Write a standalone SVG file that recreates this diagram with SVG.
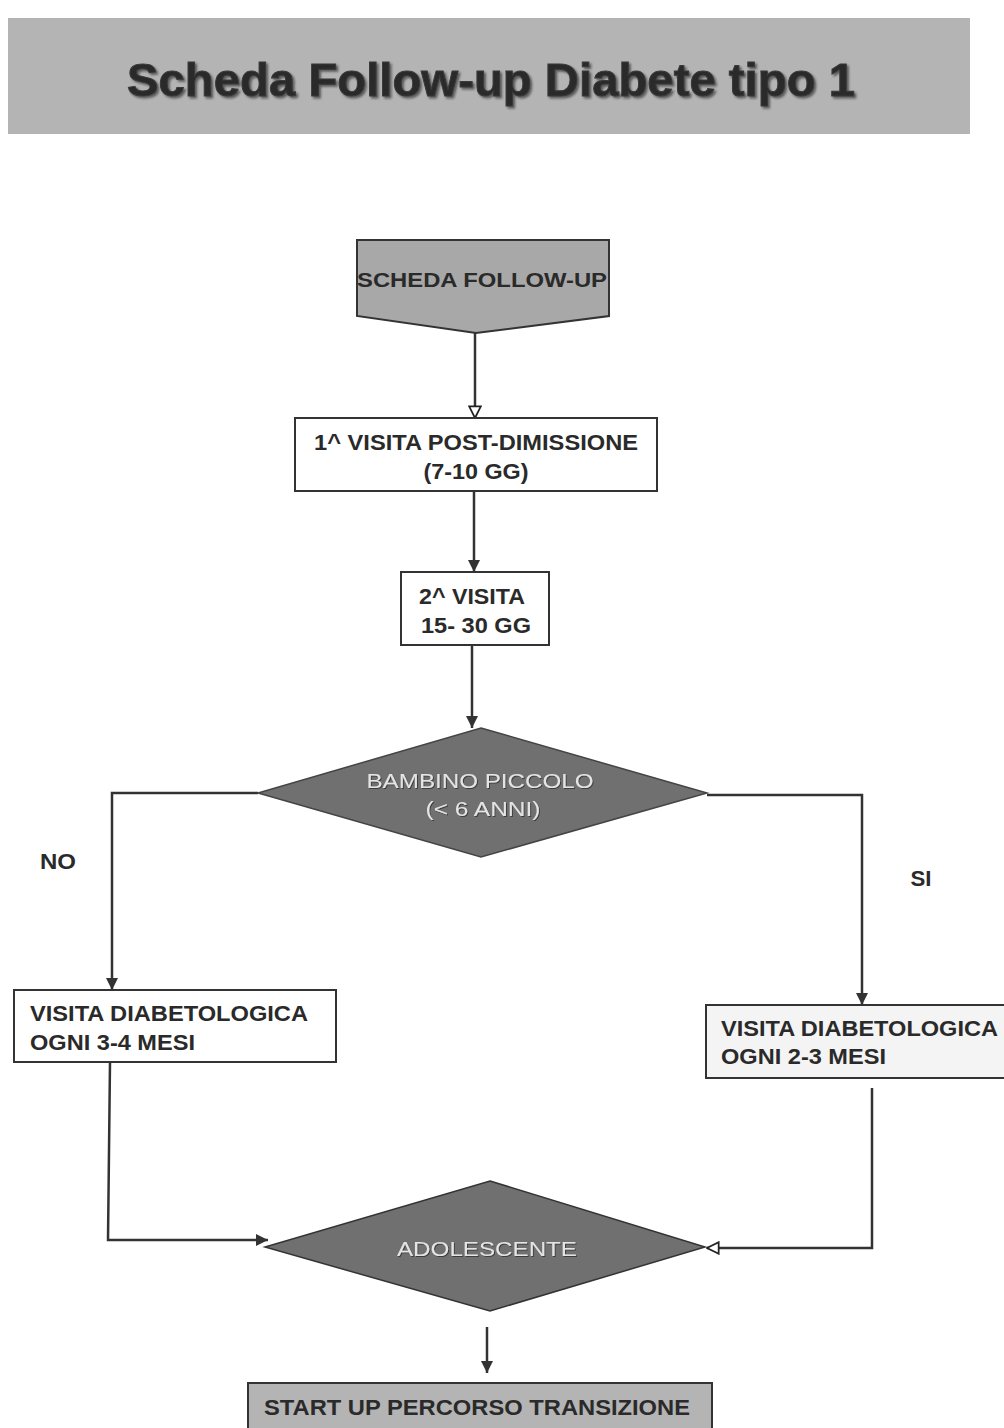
<svg xmlns="http://www.w3.org/2000/svg" width="1004" height="1428" viewBox="0 0 1004 1428">
<defs>
<marker id="filled" viewBox="0 0 10 10" refX="10" refY="5" markerWidth="12" markerHeight="12" markerUnits="userSpaceOnUse" orient="auto"><path d="M0,0 L10,5 L0,10 Z" fill="#333"/></marker>
<marker id="open" viewBox="0 0 12 12" refX="11" refY="6" markerWidth="14" markerHeight="14" markerUnits="userSpaceOnUse" orient="auto"><path d="M1,1 L11,6 L1,11 Z" fill="#fff" stroke="#222" stroke-width="1.5"/></marker>
<filter id="shadow" x="-5%" y="-20%" width="110%" height="140%"><feDropShadow dx="2" dy="2" stdDeviation="1" flood-color="#222" flood-opacity="0.6"/></filter>
<filter id="lshadow" x="-5%" y="-20%" width="110%" height="140%"><feDropShadow dx="1" dy="1" stdDeviation="0.6" flood-color="#333" flood-opacity="0.8"/></filter>
</defs>
<style>
.t{font-family:"Liberation Sans",Arial,sans-serif;font-weight:bold;fill:#2a2a2a;font-size:22.5px}
.m{text-anchor:middle}
.w{font-family:"Liberation Sans",Arial,sans-serif;fill:#e4e4e4;font-size:21px;text-anchor:middle}
.box{fill:#fff;stroke:#333;stroke-width:2}
.line{fill:none;stroke:#333;stroke-width:2.5}
</style>
<rect width="1004" height="1428" fill="#fff"/>
<g id="title">
<rect x="8" y="18" width="962" height="116" fill="#b4b4b4"/>
<text x="491" y="96" class="t m" fill="#3a3a3a" textLength="728" lengthAdjust="spacingAndGlyphs" filter="url(#shadow)" style="font-size:46px" stroke="#3a3a3a" stroke-width="1">Scheda Follow-up Diabete tipo 1</text>
</g>
<g id="connectors">
<line class="line" x1="475" y1="333" x2="475" y2="418" marker-end="url(#open)" stroke-width="2"/>
<line class="line" x1="474" y1="491" x2="474" y2="572" marker-end="url(#filled)"/>
<line class="line" x1="472" y1="645" x2="472" y2="728" marker-end="url(#filled)"/>
<polyline class="line" points="258,793 112,793 112,990" marker-end="url(#filled)"/>
<polyline class="line" points="707,795 862,795 862,1005" marker-end="url(#filled)"/>
<polyline class="line" points="110,1062 108,1240 268,1240" marker-end="url(#filled)"/>
<polyline class="line" points="872,1088 872,1248 707,1248" marker-end="url(#open)"/>
<line class="line" x1="487" y1="1327" x2="487" y2="1373" marker-end="url(#filled)"/>
<text x="58" y="869" class="t m" textLength="36" lengthAdjust="spacingAndGlyphs">NO</text>
<text x="921" y="886" class="t m" textLength="21" lengthAdjust="spacingAndGlyphs">SI</text>
</g>
<g id="scheda">
<path d="M357,240 L609,240 L609,316 L476,333 L357,316 Z" fill="#a8a8a8" stroke="#333" stroke-width="2"/>
<text x="482" y="287" class="t m" textLength="250" lengthAdjust="spacingAndGlyphs" style="font-size:21px">SCHEDA FOLLOW-UP</text>
</g>
<g id="visita1">
<rect class="box" x="295" y="418" width="362" height="73"/>
<text x="476" y="450" class="t m" textLength="324" lengthAdjust="spacingAndGlyphs">1^ VISITA POST-DIMISSIONE</text>
<text x="476" y="479" class="t m" textLength="105" lengthAdjust="spacingAndGlyphs">(7-10 GG)</text>
</g>
<g id="visita2">
<rect class="box" x="401" y="572" width="148" height="73"/>
<text x="472" y="604" class="t m" textLength="106" lengthAdjust="spacingAndGlyphs">2^ VISITA</text>
<text x="476" y="633" class="t m" textLength="110" lengthAdjust="spacingAndGlyphs">15- 30 GG</text>
</g>
<g id="bambino">
<path d="M481,728 L707,793 L481,857 L258,793 Z" fill="#707070" stroke="#444" stroke-width="1.5"/>
<text x="480" y="788" class="w" textLength="227" lengthAdjust="spacingAndGlyphs" filter="url(#lshadow)">BAMBINO PICCOLO</text>
<text x="483" y="816" class="w" textLength="115" lengthAdjust="spacingAndGlyphs" filter="url(#lshadow)">(&lt; 6 ANNI)</text>
</g>
<g id="visita34">
<rect class="box" x="14" y="990" width="322" height="72"/>
<text x="30" y="1021" class="t" textLength="278" lengthAdjust="spacingAndGlyphs">VISITA DIABETOLOGICA</text>
<text x="30" y="1050" class="t" textLength="165" lengthAdjust="spacingAndGlyphs">OGNI 3-4 MESI</text>
</g>
<g id="visita23">
<rect x="706" y="1005" width="310" height="73" fill="#f4f4f4" stroke="#333" stroke-width="2"/>
<text x="721" y="1036" class="t" textLength="277" lengthAdjust="spacingAndGlyphs">VISITA DIABETOLOGICA</text>
<text x="721" y="1064" class="t" textLength="165" lengthAdjust="spacingAndGlyphs">OGNI 2-3 MESI</text>
</g>
<g id="adolescente">
<path d="M490,1181 L705,1247 L490,1311 L265,1247 Z" fill="#707070" stroke="#333" stroke-width="1.5"/>
<text x="487" y="1256" class="w" textLength="180" lengthAdjust="spacingAndGlyphs" filter="url(#lshadow)">ADOLESCENTE</text>
</g>
<g id="startup">
<rect x="248" y="1383" width="464" height="50" fill="#b4b4b4" stroke="#333" stroke-width="2"/>
<text x="477" y="1415" class="t m" textLength="426" lengthAdjust="spacingAndGlyphs">START UP PERCORSO TRANSIZIONE</text>
</g>
</svg>
